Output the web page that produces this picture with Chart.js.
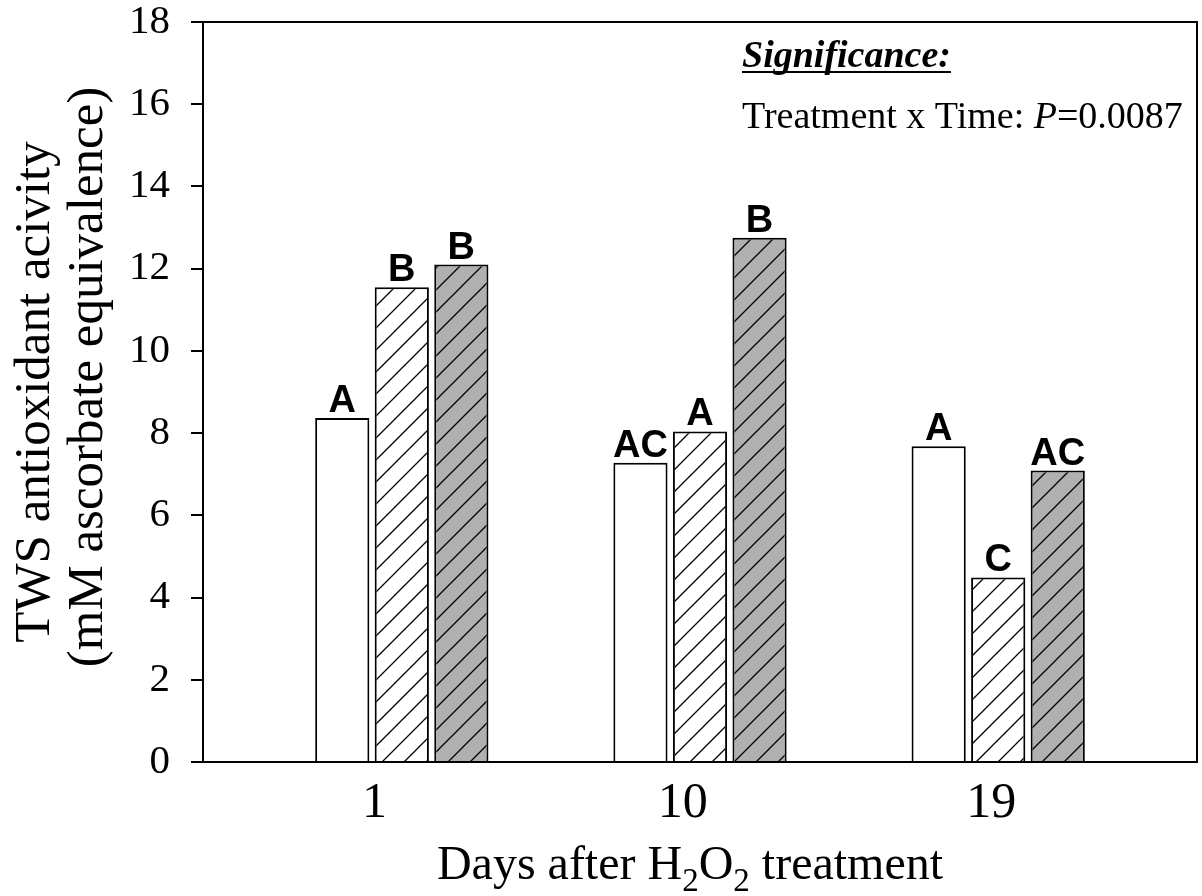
<!DOCTYPE html>
<html>
<head>
<meta charset="utf-8">
<script src="https://cdn.jsdelivr.net/npm/chart.js@4.4.1/dist/chart.umd.min.js"></script>
<style>
  html, body { margin: 0; padding: 0; background: #fff; }
  #wrap { width: 1202px; height: 896px; }
</style>
</head>
<body>
<div id="wrap"><canvas id="chart" width="1202" height="896"></canvas></div>
<script>
// Sampling days after the H2O2 treatment
const days = [1, 10, 19];
const dayLabels = ['1', '10', '19'];

// TWS antioxidant activity, mM ascorbate equivalence
const openBarValues = [8.37, 7.28, 7.68];
const hatchBarValues = [11.55, 8.04, 4.49];
const grayBarValues = [12.10, 12.75, 7.09];

// Mean separation letters, one per bar
const openBarLetters = ['A', 'AC', 'A'];
const hatchBarLetters = ['B', 'A', 'C'];
const grayBarLetters = ['B', 'B', 'AC'];

const yTicks = [0, 2, 4, 6, 8, 10, 12, 14, 16, 18];
const yTitleLines = ['TWS antioxidant acivity', '(mM ascorbate equivalence)'];

const SERIF = '"Liberation Serif", "Times New Roman", serif';
const SANS = '"Liberation Sans", Arial, sans-serif';

// diagonal "/" hatch over a given fill colour
function makeHatch(bg) {
    const size = 22;
    const c = document.createElement('canvas');
    c.width = size;
    c.height = size;
    const g = c.getContext('2d');
    g.fillStyle = bg;
    g.fillRect(0, 0, size, size);
    g.strokeStyle = '#000';
    g.lineWidth = 1.3;
    g.beginPath();
    g.moveTo(-2, size + 2); g.lineTo(size + 2, -2);
    g.moveTo(-2, 2); g.lineTo(2, -2);
    g.moveTo(size - 2, size + 2); g.lineTo(size + 2, size - 2);
    g.stroke();
    return g.createPattern(c, 'repeat');
}

const toPoints = (vals) => days.map((d, i) => ({ x: d, y: vals[i] }));

const barLetters = [openBarLetters, hatchBarLetters, grayBarLetters];

// letters above each bar
const letterPlugin = {
    id: 'letters',
    afterDatasetsDraw(chart) {
        const ctx = chart.ctx;
        ctx.save();
        ctx.fillStyle = '#000';
        ctx.font = 'bold 38px ' + SANS;
        ctx.textAlign = 'center';
        ctx.textBaseline = 'alphabetic';
        chart.data.datasets.forEach((ds, i) => {
            chart.getDatasetMeta(i).data.forEach((bar, j) => {
                ctx.fillText(barLetters[i][j], bar.x, bar.y - 6);
            });
        });
        ctx.restore();
    }
};

// closes the frame on top and right, draws axis titles and the significance note
const framePlugin = {
    id: 'frame',
    beforeDraw(chart) {
        const ctx = chart.ctx;
        ctx.save();
        ctx.fillStyle = '#fff';
        ctx.fillRect(0, 0, chart.width, chart.height);
        ctx.restore();
    },
    afterDraw(chart) {
        const ctx = chart.ctx;
        const a = chart.chartArea;
        ctx.save();
        ctx.strokeStyle = '#000';
        ctx.lineWidth = 2;
        ctx.beginPath();
        ctx.moveTo(a.left, a.top);
        ctx.lineTo(a.right, a.top);
        ctx.lineTo(a.right, a.bottom);
        ctx.stroke();

        ctx.fillStyle = '#000';
        ctx.textBaseline = 'alphabetic';

        // y axis title, two rotated lines
        ctx.font = '51px ' + SERIF;
        ctx.textAlign = 'center';
        [[49, 392], [102, 377]].forEach(([bx, cy], i) => {
            ctx.save();
            ctx.translate(bx, cy);
            ctx.rotate(-Math.PI / 2);
            ctx.fillText(yTitleLines[i], 0, 0);
            ctx.restore();
        });

        // x axis title with subscripts
        const big = '48px ' + SERIF;
        const small = '33px ' + SERIF;
        const parts = [
            { t: 'Days after H', f: big, dy: 0 },
            { t: '2', f: small, dy: 12 },
            { t: 'O', f: big, dy: 0 },
            { t: '2', f: small, dy: 12 },
            { t: ' treatment', f: big, dy: 0 }
        ];
        let total = 0;
        parts.forEach(p => { ctx.font = p.f; p.w = ctx.measureText(p.t).width; total += p.w; });
        let x = (a.left + a.right) / 2 - total / 2 - 10;
        const base = 879;
        ctx.textAlign = 'left';
        parts.forEach(p => {
            ctx.font = p.f;
            ctx.fillText(p.t, x, base + p.dy);
            x += p.w;
        });

        // significance note
        const nx = 742;
        ctx.font = 'italic bold 38px ' + SERIF;
        const head = 'Significance:';
        ctx.fillText(head, nx, 67);
        const hw = ctx.measureText(head).width;
        ctx.lineWidth = 2;
        ctx.beginPath();
        ctx.moveTo(nx, 72);
        ctx.lineTo(nx + hw, 72);
        ctx.stroke();

        let sx = nx;
        const line = [
            { t: 'Treatment x Time: ', f: '38px ' + SERIF },
            { t: 'P', f: 'italic 38px ' + SERIF },
            { t: '=0.0087', f: '38px ' + SERIF }
        ];
        line.forEach(p => {
            ctx.font = p.f;
            ctx.fillText(p.t, sx, 128);
            sx += ctx.measureText(p.t).width;
        });
        ctx.restore();
    }
};

const ctx = document.getElementById('chart').getContext('2d');

new Chart(ctx, {
    type: 'bar',
    data: {
        datasets: [
            {
                label: 'Group 1',
                data: toPoints(openBarValues),
                backgroundColor: '#ffffff',
                borderColor: '#000',
                borderWidth: 2
            },
            {
                label: 'Group 2',
                data: toPoints(hatchBarValues),
                backgroundColor: makeHatch('#ffffff'),
                borderColor: '#000',
                borderWidth: 2
            },
            {
                label: 'Group 3',
                data: toPoints(grayBarValues),
                backgroundColor: makeHatch('#b0b0b0'),
                borderColor: '#000',
                borderWidth: 2
            }
        ]
    },
    options: {
        responsive: false,
        animation: false,
        devicePixelRatio: 1,
        categoryPercentage: 0.599,
        barPercentage: 0.91,
        layout: { padding: { top: 0, right: 5, left: 0, bottom: 0 } },
        plugins: {
            legend: { display: false },
            tooltip: { enabled: false }
        },
        scales: {
            x: {
                type: 'linear',
                display: false,
                offset: false,
                grid: { offset: false },
                min: -5,
                max: 25,
                afterBuildTicks: (s) => { s.ticks = days.map(v => ({ value: v })); }
            },
            // tick labels for the days sit on their own scale
            xt: {
                type: 'linear',
                position: 'bottom',
                offset: false,
                min: -4,
                max: 25,
                afterBuildTicks: (s) => { s.ticks = days.map(v => ({ value: v })); },
                afterFit: (s) => { s.height = 134; },
                grid: { display: false, drawTicks: false, offset: false },
                border: { display: true, color: '#000', width: 2 },
                ticks: {
                    color: '#000',
                    font: { family: SERIF, size: 50, lineHeight: 1 },
                    padding: 17,
                    maxRotation: 0,
                    autoSkip: false,
                    callback: (v, i) => dayLabels[i]
                }
            },
            y: {
                min: 0,
                max: 18,
                afterBuildTicks: (s) => { s.ticks = yTicks.map(v => ({ value: v })); },
                afterFit: (s) => {
                    s.width = 203;
                    s.paddingTop = 22;
                    s.paddingBottom = 22;
                },
                grid: {
                    drawOnChartArea: false,
                    drawTicks: true,
                    tickLength: 12,
                    tickWidth: 2,
                    tickColor: '#000',
                    color: '#000',
                    lineWidth: 2
                },
                border: { color: '#000', width: 2 },
                ticks: {
                    color: '#000',
                    font: { family: SERIF, size: 41, lineHeight: 1 },
                    padding: 21
                }
            }
        }
    },
    plugins: [letterPlugin, framePlugin]
});
</script>
</body>
</html>
